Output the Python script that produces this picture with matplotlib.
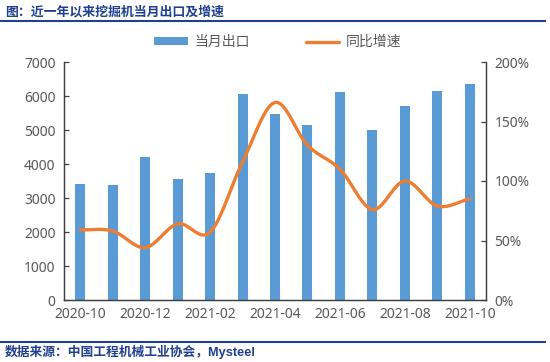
import numpy as np
import matplotlib
matplotlib.use("Agg")
import matplotlib.pyplot as plt
from matplotlib.ticker import FuncFormatter

plt.rcParams['font.family'] = ['Noto Sans', 'Noto Sans CJK SC', 'DejaVu Sans']

months = ['2020-10', '2020-11', '2020-12', '2021-01', '2021-02', '2021-03', '2021-04',
          '2021-05', '2021-06', '2021-07', '2021-08', '2021-09', '2021-10']
exports = [3420, 3390, 4200, 3560, 3730, 6060, 5480, 5140, 6120, 5010, 5720, 6140, 6350]
growth = [0.59, 0.58, 0.44, 0.64, 0.57, 1.16, 1.66, 1.30, 1.10, 0.76, 1.00, 0.79, 0.85]

BLUE = '#5B9BD5'
ORANGE = '#ED7D31'
NAVY = '#1F3F8F'
GREY = '#595959'


def smooth(x, y, n=20):
    # catmull-rom curve through the points, like excel's smoothed line
    x = np.asarray(x, float)
    y = np.asarray(y, float)
    px = np.concatenate([[2 * x[0] - x[1]], x, [2 * x[-1] - x[-2]]])
    py = np.concatenate([[2 * y[0] - y[1]], y, [2 * y[-1] - y[-2]]])
    xs, ys = [], []
    t = np.linspace(0, 1, n, endpoint=False)
    for i in range(1, len(px) - 2):
        for p, out in ((px, xs), (py, ys)):
            p0, p1, p2, p3 = p[i - 1], p[i], p[i + 1], p[i + 2]
            out.extend(0.5 * (2 * p1 + (-p0 + p2) * t
                              + (2 * p0 - 5 * p1 + 4 * p2 - p3) * t ** 2
                              + (-p0 + 3 * p1 - 3 * p2 + p3) * t ** 3))
    xs.append(x[-1])
    ys.append(y[-1])
    return np.array(xs), np.array(ys)


fig = plt.figure(figsize=(5.5, 3.62), dpi=100)
ax = fig.add_axes([64 / 550, 62 / 362, 422 / 550, 238 / 362])
ax2 = ax.twinx()

pos = np.arange(len(months))
bars = ax.bar(pos, exports, width=0.31, color=BLUE, label='当月出口', zorder=2)
sx, sy = smooth(pos, growth)
line, = ax2.plot(sx, sy, color=ORANGE, lw=2.4, label='同比增速', solid_capstyle='round')

ax.set_xlim(-0.5, len(months) - 0.5)
ax.set_ylim(0, 7000)
ax.set_yticks(range(0, 7001, 1000))
ax2.set_ylim(0, 2)
ax2.set_yticks([0, 0.5, 1, 1.5, 2])
ax2.yaxis.set_major_formatter(FuncFormatter(lambda v, _: f'{v:.0%}'))

ax.set_xticks(pos[::2])
ax.set_xticklabels(months[::2])

for a in (ax, ax2):
    a.spines['top'].set_visible(False)
    for s in ('left', 'right', 'bottom'):
        a.spines[s].set_color('#404040')
        a.spines[s].set_linewidth(0.9)
    a.tick_params(axis='y', direction='in', length=3.5, width=0.9, color='#404040',
                  labelsize=10, labelcolor=GREY, pad=6)
ax.tick_params(axis='x', length=0, labelsize=10, labelcolor=GREY, pad=5)

fig.legend(handles=[bars, line], labels=['当月出口', '同比增速'], loc='center',
           bbox_to_anchor=(0.505, 0.883), ncol=2, frameon=False, fontsize=10,
           handlelength=2.4, handleheight=0.45, columnspacing=4.0, handletextpad=0.5,
           labelcolor=GREY)

cjk_bold = ['Liberation Sans', 'Noto Sans CJK SC']
fig.text(0.009, 0.966, '图：近一年以来挖掘机当月出口及增速', fontsize=9.3, fontweight='bold',
         color=NAVY, va='center', ha='left', family=cjk_bold)
fig.text(0.009, 0.028, '数据来源：中国工程机械工业协会，Mysteel', fontsize=9.2, fontweight='bold',
         color=NAVY, va='center', ha='left', family=cjk_bold)
fig.add_artist(plt.Line2D([0, 0.99], [1 - 20.5 / 362] * 2, color=NAVY, lw=1.5))
fig.add_artist(plt.Line2D([0, 0.99], [1 - 342 / 362] * 2, color=NAVY, lw=1.5))

fig.savefig('out.png', dpi=100)
